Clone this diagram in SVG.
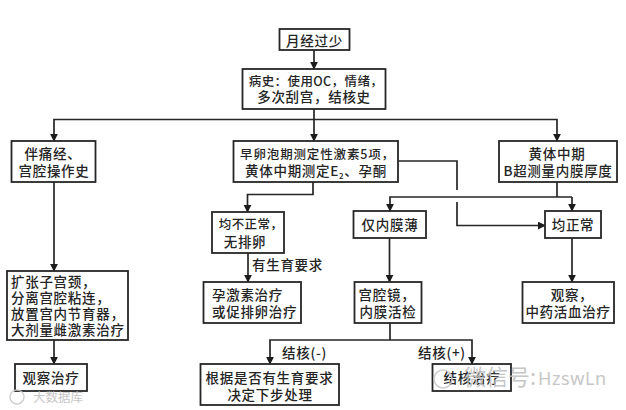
<svg xmlns="http://www.w3.org/2000/svg" width="626" height="410" viewBox="0 0 626 410">
<defs>
<marker id="a" viewBox="0 0 10 10" refX="9" refY="5" markerWidth="8" markerHeight="8" markerUnits="userSpaceOnUse" orient="auto"><path d="M0 0L10 5L0 10Z" fill="#1c1c1c"/></marker>
</defs>
<style>
rect{fill:#fff;stroke:#262626;stroke-width:1.8}
path.c{fill:none;stroke:#262626;stroke-width:1.7}
path.e{marker-end:url(#a)}
circle{fill:none;stroke:#c8c8c8;stroke-width:1.5}
text{font-family:"Noto Sans CJK SC","Noto Sans CJK JP",sans-serif;font-size:13.5px;font-weight:500;fill:#242424;text-anchor:middle;letter-spacing:.7px}
text.l{text-anchor:start}
text.s{font-size:12.5px;letter-spacing:.4px}
text.w{fill:#bdbdbd;font-weight:400;text-anchor:start;letter-spacing:0}
</style>
<rect x="0" y="0" width="626" height="410" style="stroke:none"/>
<g id="connectors">
<path class="c e" d="M314 50V69"/>
<path class="c" d="M314 109V119.500"/>
<path class="c e" d="M314 119.500H54V141"/>
<path class="c e" d="M314 119.500V141"/>
<path class="c e" d="M314 119.500H557V141"/>
<path class="c e" d="M54 182V271"/>
<path class="c e" d="M54 340V364"/>
<path class="c e" d="M313 182V194.500H247.500V212"/>
<path class="c" d="M557 182V197"/>
<path class="c e" d="M572 197H390V211"/>
<path class="c e" d="M572 197V211"/>
<path class="c" d="M398 161H457V190"/>
<path class="c e" d="M457 202V225.500H545"/>
<path class="c e" d="M248 253V282"/>
<path class="c e" d="M389.500 238V282"/>
<path class="c e" d="M572 238V282"/>
<path class="c" d="M390 323V340"/>
<path class="c e" d="M390 340H270V364"/>
<path class="c e" d="M390 340H472V364"/>
</g>
<g id="n1"><rect x="279.500" y="29" width="70" height="21"/><text x="314.500" y="46">月经过少</text></g>
<g id="n2"><rect x="242.500" y="69" width="143" height="40"/><text class="s" x="316" y="86">病史：使用OC，情绪，</text><text x="314" y="102">多次刮宫，结核史</text></g>
<g id="n3"><rect x="11.500" y="141" width="84" height="41"/><text x="53" y="159">伴痛经、</text><text x="54" y="176">宫腔操作史</text></g>
<g id="n4"><rect x="233.500" y="141" width="164.500" height="41"/><text class="s" x="317.500" y="159" style="letter-spacing:.85px">早卵泡期测定性激素5项，</text><text x="316" y="176">黄体中期测定E<tspan font-size="8" dy="3">2</tspan><tspan dy="-3">、孕酮</tspan></text></g>
<g id="n5"><rect x="499" y="141" width="118" height="41"/><text x="557" y="159">黄体中期</text><text x="558" y="176">B超测量内膜厚度</text></g>
<g id="n6"><rect x="212" y="212" width="72" height="41"/><text class="s" x="251" y="229">均不正常，</text><text x="245" y="247">无排卵</text></g>
<g id="n7"><rect x="353.500" y="211" width="72.500" height="27"/><text x="390" y="230">仅内膜薄</text></g>
<g id="n8"><rect x="545" y="211" width="56" height="27"/><text x="573" y="230">均正常</text></g>
<g id="n9"><rect x="7" y="271" width="121" height="69"/><text class="l" x="11" y="287">扩张子宫颈，</text><text class="l" x="11" y="303">分离宫腔粘连，</text><text class="l" x="11" y="319">放置宫内节育器，</text><text class="l" x="11" y="335">大剂量雌激素治疗</text></g>
<g id="n10"><rect x="203.500" y="282" width="97.500" height="41"/><text class="l" x="212" y="300">孕激素治疗</text><text class="l" x="212" y="317">或促排卵治疗</text></g>
<g id="n11"><rect x="354.500" y="282" width="67" height="41"/><text x="387" y="300">宫腔镜，</text><text x="388" y="317">内膜活检</text></g>
<g id="n12"><rect x="522.500" y="282" width="91.500" height="41"/><text x="572" y="300">观察，</text><text x="568" y="317">中药活血治疗</text></g>
<g id="n13"><rect x="15" y="364" width="72" height="27"/><text x="51" y="383">观察治疗</text></g>
<g id="n14"><rect x="200.500" y="364" width="138.500" height="41"/><text x="269.500" y="383">根据是否有生育要求</text><text x="270" y="400">决定下步处理</text></g>
<g id="n15"><rect x="432.500" y="364" width="78.500" height="27"/><text x="472" y="383">结核治疗</text></g>
<g id="labels">
<text class="l" x="252" y="270">有生育要求</text>
<text class="l" x="282" y="358">结核(-)</text>
<text class="l" x="418" y="358">结核(+)</text>
</g>
<g id="watermarks" opacity=".85">
<circle cx="443" cy="379" r="9"/>
<text class="w" x="464" y="385" style="font-size:22px">微信号:</text>
<text class="w" x="538" y="385" style="font-size:18px;font-family:'Noto Sans',sans-serif;letter-spacing:.6px">HzswLn</text>
<circle cx="17" cy="397" r="7"/>
<text class="w" x="33" y="402" style="font-size:12.500px">大数据库</text>
</g>
</svg>
